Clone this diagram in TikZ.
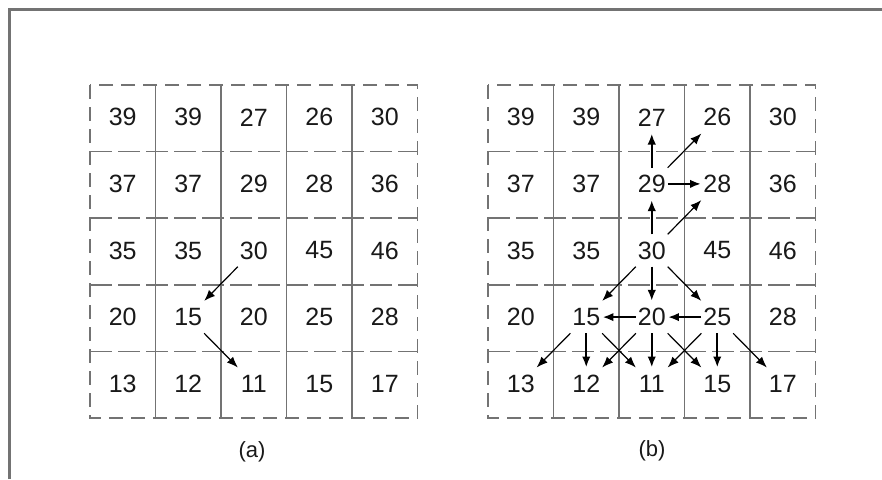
\documentclass[tikz,border=0pt]{standalone}
\usepackage{fontspec}
\setmainfont{Liberation Sans}
\usetikzlibrary{arrows.meta}
\begin{document}
\begin{tikzpicture}[x=1pt,y=-1pt,
  num/.style={rectangle,minimum size=32pt,inner sep=0pt,font=\fontsize{25}{25}\selectfont,text=black!90},
  captext/.style={font=\fontsize{22}{22}\selectfont,text=black!90},
  gridline/.style={draw=black!55,line width=1.5pt},
  thinarr/.style={-{Latex[length=11pt,width=8.5pt]},line width=1.2pt,draw=black},
  thickarr/.style={-{Latex[length=11pt,width=8.5pt]},line width=2.2pt,draw=black},
]
\useasboundingbox (0,0) rectangle (882,479);
\fill[white] (0,0) rectangle (882,479);
\draw[black!55,line width=3pt] (9,479) -- (9,9) -- (882,9);
% grids
\foreach \gx in {90,488}{
  \draw[gridline,dash pattern=on 14pt off 8pt] (\gx,85) rectangle ++(327.5,333);
  \foreach \i in {1,...,4}{
    \draw[gridline] ({\gx+\i*65.5},85) -- ++(0,333);
    \draw[gridline,dash pattern=on 22pt off 6pt] (\gx,{85+\i*66.6}) -- ++(327.5,0);
  }
}
% numbers
\foreach \gx/\g in {90/a,488/b}{
  \foreach \row [count=\r] in {{39,39,27,26,30},{37,37,29,28,36},{35,35,30,45,46},{20,15,20,25,28},{13,12,11,15,17}}{
    \foreach \v [count=\c] in \row {
      \node[num] (\g\r\c) at ({\gx+(\c-0.5)*65.5},{84+(\r-0.5)*66.6}) {\v};
    }
  }
}
% arrows (a)
\draw[thinarr] (a33) -- (a42);
\draw[thinarr] (a42) -- (a53);
% arrows (b)
\foreach \s/\t in {b23/b13,b23/b24,b33/b23,b33/b43,b43/b42,b44/b43,b42/b52,b43/b53,b44/b54}
  \draw[thickarr] (\s) -- (\t);
\foreach \s/\t in {b23/b14,b33/b24,b33/b42,b33/b44,b42/b51,b42/b53,b43/b52,b43/b54,b44/b53,b44/b55}
  \draw[thinarr] (\s) -- (\t);
% captions
\node[captext] (la) at (252,452) {(a)};
\node[captext] (lb) at (652,451) {(b)};
\end{tikzpicture}
\end{document}
